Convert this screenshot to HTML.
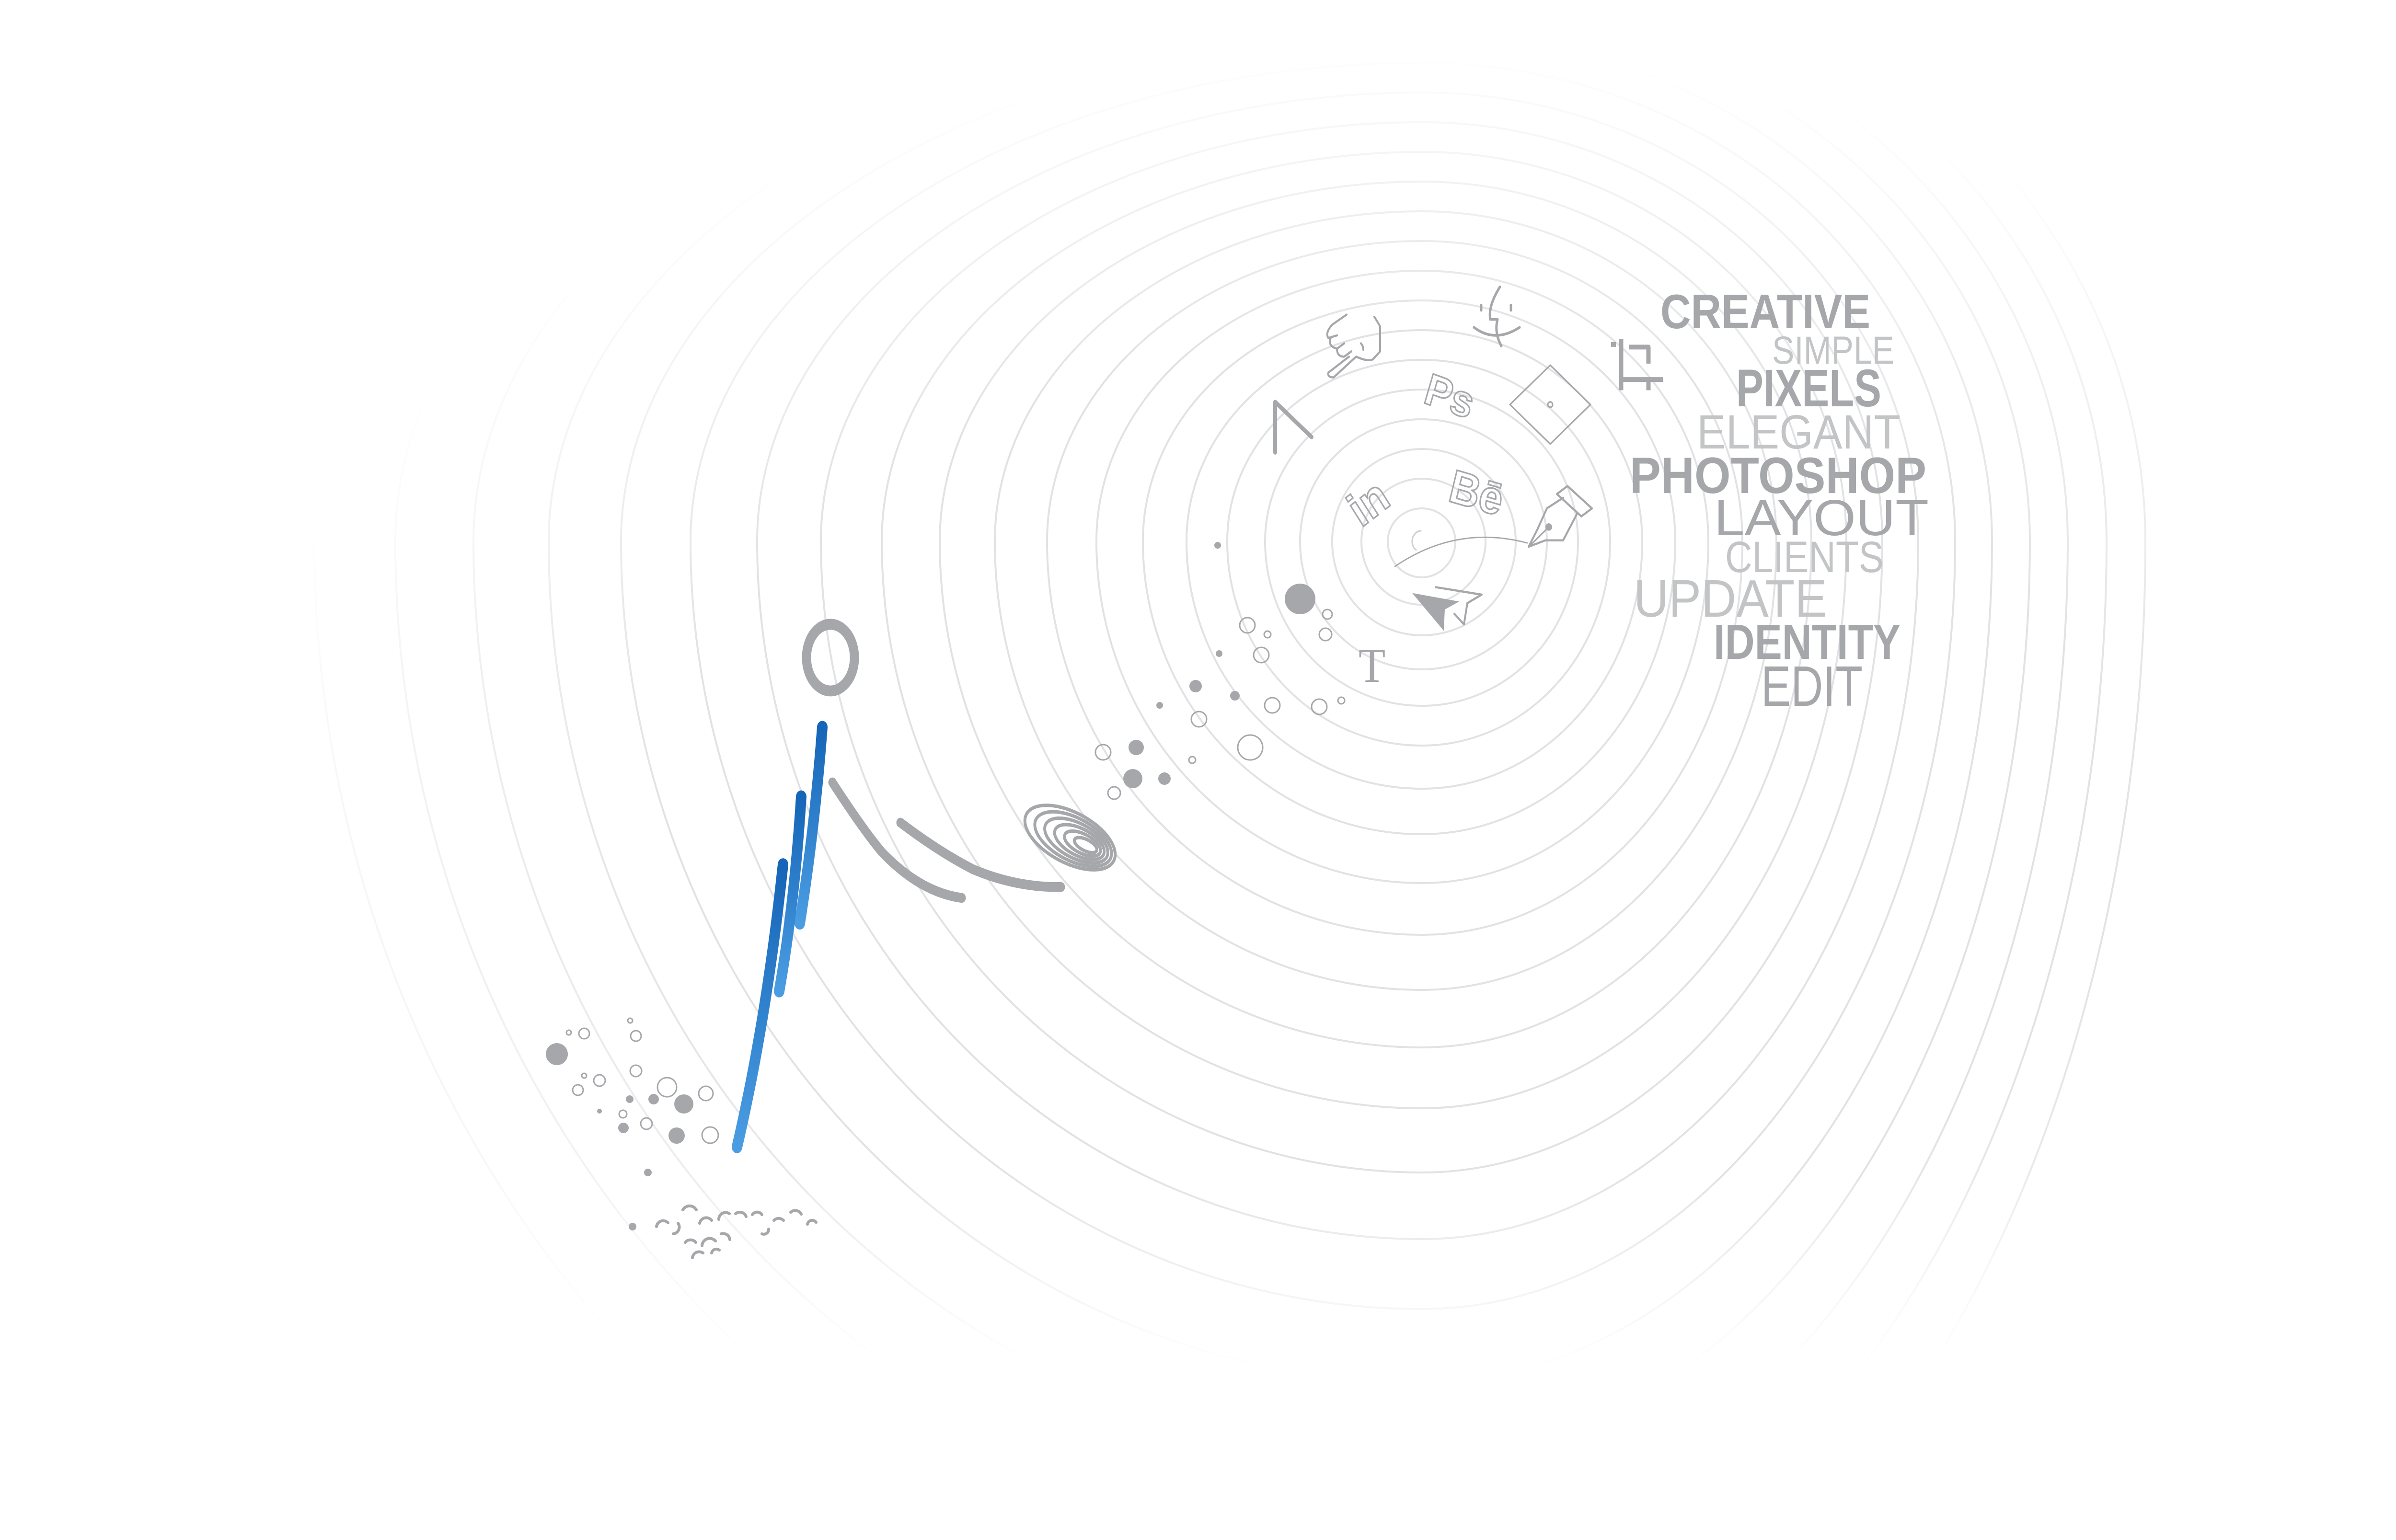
<!DOCTYPE html>
<html><head><meta charset="utf-8"><style>
html,body{margin:0;padding:0;background:#fff;width:5136px;height:3214px;overflow:hidden}
svg{display:block;position:absolute;left:0;top:0}
</style></head><body>
<svg width="5136" height="3214" viewBox="0 0 5136 3214" xmlns="http://www.w3.org/2000/svg">
<defs>
<radialGradient id="gR" cx="2900" cy="1700" r="2500" gradientUnits="userSpaceOnUse" gradientTransform="translate(0 1700) scale(1 0.66) translate(0 -1700)">
<stop offset="0" stop-color="#fff"/><stop offset="0.6" stop-color="#fff"/><stop offset="0.97" stop-color="#000"/></radialGradient>
<linearGradient id="gV" x1="0" y1="0" x2="0" y2="3214" gradientUnits="userSpaceOnUse">
<stop offset="0" stop-color="#fff"/><stop offset="0.76" stop-color="#fff"/><stop offset="0.89" stop-color="#000"/></linearGradient>
<mask id="m" maskUnits="userSpaceOnUse" x="0" y="0" width="5136" height="3214">
<rect width="5136" height="3214" fill="url(#gR)"/>
</mask>
<mask id="m2" maskUnits="userSpaceOnUse" x="0" y="0" width="5136" height="3214">
<rect width="5136" height="3214" fill="url(#gV)"/>
</mask>
<linearGradient id="blue" x1="0" y1="0" x2="0" y2="1"><stop offset="0" stop-color="#1565b8"/><stop offset="1" stop-color="#4b9de2"/></linearGradient>
</defs>
<g mask="url(#m2)">
<g fill="none" stroke="#e2e2e4" stroke-width="4" mask="url(#m)">
<path d="M2896 1130 A71 69 0 0 1 2967 1061 A70 69 0 0 1 3037 1130 A70 75 0 0 1 2967 1205 A71 75 0 0 1 2896 1130"/>
<path d="M2841 1130 A126 131 0 0 1 2967 999 A133 131 0 0 1 3100 1130 A133 132 0 0 1 2967 1262 A126 132 0 0 1 2841 1130"/>
<path d="M2780 1130 A187 193 0 0 1 2967 937 A196 193 0 0 1 3163 1130 A196 196 0 0 1 2967 1326 A187 196 0 0 1 2780 1130"/>
<path d="M2713 1130 A254 255 0 0 1 2967 875 A261 255 0 0 1 3228 1130 A261 267 0 0 1 2967 1397 A254 267 0 0 1 2713 1130"/>
<path d="M2640 1130 A327 317 0 0 1 2967 813 A326 317 0 0 1 3293 1130 A326 343 0 0 1 2967 1473 A327 343 0 0 1 2640 1130"/>
<path d="M2561 1130 A406 379 0 0 1 2967 751 A393 379 0 0 1 3360 1130 A393 426 0 0 1 2967 1556 A406 426 0 0 1 2561 1130"/>
<path d="M2476 1130 A491 441 0 0 1 2967 689 A460 441 0 0 1 3427 1130 A460 516 0 0 1 2967 1646 A491 516 0 0 1 2476 1130"/>
<path d="M2385 1130 A582 503 0 0 1 2967 627 A529 503 0 0 1 3496 1130 A529 611 0 0 1 2967 1741 A582 611 0 0 1 2385 1130"/>
<path d="M2288 1130 A679 565 0 0 1 2967 565 A598 565 0 0 1 3565 1130 A598 713 0 0 1 2967 1843 A679 713 0 0 1 2288 1130"/>
<path d="M2185 1130 A782 627 0 0 1 2967 503 A669 627 0 0 1 3636 1130 A669 821 0 0 1 2967 1951 A782 821 0 0 1 2185 1130"/>
<path d="M2076 1130 A891 689 0 0 1 2967 441 A740 689 0 0 1 3707 1130 A740 936 0 0 1 2967 2066 A891 936 0 0 1 2076 1130"/>
<path d="M1961 1130 A1006 751 0 0 1 2967 379 A813 751 0 0 1 3780 1130 A813 1056 0 0 1 2967 2186 A1006 1056 0 0 1 1961 1130"/>
<path d="M1840 1130 A1127 813 0 0 1 2967 317 A886 813 0 0 1 3853 1130 A886 1183 0 0 1 2967 2313 A1127 1183 0 0 1 1840 1130"/>
<path d="M1713 1130 A1254 875 0 0 1 2967 255 A961 875 0 0 1 3928 1130 A961 1317 0 0 1 2967 2447 A1254 1317 0 0 1 1713 1130"/>
<path d="M1580 1130 A1387 937 0 0 1 2967 193 A1036 937 0 0 1 4003 1130 A1036 1456 0 0 1 2967 2586 A1387 1456 0 0 1 1580 1130"/>
<path d="M1441 1130 A1526 999 0 0 1 2967 131 A1113 999 0 0 1 4080 1130 A1113 1602 0 0 1 2967 2732 A1526 1602 0 0 1 1441 1130"/>
<path d="M1296 1130 A1671 1061 0 0 1 2967 69 A1190 1061 0 0 1 4157 1130 A1190 1755 0 0 1 2967 2885 A1671 1755 0 0 1 1296 1130"/>
<path d="M1145 1130 A1822 1123 0 0 1 2967 7 A1269 1123 0 0 1 4236 1130 A1269 1913 0 0 1 2967 3043 A1822 1913 0 0 1 1145 1130"/>
<path d="M988 1130 A1979 1185 0 0 1 2967 -55 A1348 1185 0 0 1 4315 1130 A1348 2078 0 0 1 2967 3208 A1979 2078 0 0 1 988 1130"/>
<path d="M825 1130 A2142 1247 0 0 1 2967 -117 A1429 1247 0 0 1 4396 1130 A1429 2249 0 0 1 2967 3379 A2142 2249 0 0 1 825 1130"/>
<path d="M656 1130 A2311 1309 0 0 1 2967 -179 A1510 1309 0 0 1 4477 1130 A1510 2427 0 0 1 2967 3557 A2311 2427 0 0 1 656 1130"/>
</g>
</g>

<!-- words -->
<g font-family="Liberation Sans, sans-serif">
<text x="3465" y="685" font-size="101" font-weight="bold" fill="#a6a7aa" textLength="438" lengthAdjust="spacingAndGlyphs">CREATIVE</text>
<text x="3698" y="759" font-size="82" fill="#c3c4c6" textLength="255" lengthAdjust="spacingAndGlyphs">SIMPLE</text>
<text x="3623" y="848" font-size="110" font-weight="bold" fill="#a6a7aa" textLength="303" lengthAdjust="spacingAndGlyphs">PIXELS</text>
<text x="3541" y="936" font-size="100" fill="#c3c4c6" textLength="425" lengthAdjust="spacingAndGlyphs">ELEGANT</text>
<text x="3401" y="1029" font-size="107" font-weight="bold" fill="#a6a7aa" textLength="619" lengthAdjust="spacingAndGlyphs">PHOTOSHOP</text>
<text x="3577" y="1117" font-size="106" fill="#a6a7aa" textLength="448" lengthAdjust="spacingAndGlyphs">LAYOUT</text>
<text x="3600" y="1194" font-size="92" fill="#c3c4c6" textLength="331" lengthAdjust="spacingAndGlyphs">CLIENTS</text>
<text x="3409" y="1287" font-size="110" fill="#c3c4c6" textLength="404" lengthAdjust="spacingAndGlyphs">UPDATE</text>
<text x="3576" y="1375" font-size="103" font-weight="bold" fill="#a6a7aa" textLength="390" lengthAdjust="spacingAndGlyphs">IDENTITY</text>
<text x="3675" y="1473" font-size="119" fill="#a6a7aa" textLength="212" lengthAdjust="spacingAndGlyphs">EDIT</text>
</g>

<!-- icons -->
<g transform="matrix(1 0 0 1.111 0 -61.1)">
<g stroke="#a6a7aa" fill="none" stroke-width="7" stroke-linecap="round" stroke-linejoin="round">
<path d="M3362 702 H3372 M3383 692 V788 M3383 768 H3470 M3400 707 H3440 V738 M3440 768 V788" stroke-width="9" stroke-linecap="butt"/>
<path d="M2661 905 V810 L2737 876" stroke-width="8"/>
<path d="M3130 594 Q3105 630 3110 655 L3125 655 Q3118 680 3133 705 M3076 670 Q3120 700 3171 670 M3091 628 V638 M3153 628 V638" stroke-width="5"/>
<path d="M2810 646 L2780 665 Q2765 680 2772 690 L2790 685 M2777 690 Q2770 705 2790 710 L2805 700 M2790 710 Q2790 725 2805 725 L2820 715 M2815 725 L2772 755 Q2770 764 2783 764 L2830 725 Q2855 735 2865 730 L2880 715 V668 L2868 650 M2840 700 Q2845 705 2845 712" stroke-width="4"/>
<path d="M3235 741 L3319 815 L3235 889 L3151 815 Z" stroke-width="3"/>
<circle cx="3235" cy="815" r="5" stroke-width="3"/>
<path d="M3271 968 L3322 1010 L3300 1025 L3249 983 Z M3262 990 L3228 1010 L3208 1050 L3190 1082 L3225 1070 L3262 1070 L3291 1020" stroke-width="4"/>
<path d="M3232 1045 L3195 1078" stroke-width="3"/>
<path d="M2911 1119 Q3040 1040 3187 1075" stroke-width="2.5"/>
<path d="M2965 1052 A20 20 0 0 0 2955 1088" stroke="#d0d0d2" stroke-width="3"/>
<path d="M2996 1158 L3092 1172 L3062 1188 L3055 1228 L3035 1208" stroke-width="4"/>
</g>
<circle cx="3232" cy="1045" r="7" fill="#a6a7aa"/>
<path d="M2947 1169 L3045 1185 L3015 1200 L3013 1240 Z" fill="#a6a7aa"/>
<g font-family="Liberation Sans, sans-serif" font-weight="bold" fill="none" stroke="#a6a7aa" stroke-width="3">
<text x="2975" y="826" font-size="84" transform="rotate(18 3020 795)">Ps</text>
<text x="2815" y="1025" font-size="90" transform="rotate(-35 2863 996)">in</text>
<text x="3025" y="1010" font-size="88" transform="rotate(15 3078 981)">Bē</text>
</g>
<text x="2835" y="1336" font-family="Liberation Serif, serif" font-size="92" fill="#a6a7aa">T</text>
</g>

<!-- bubbles -->
<g fill="#a6a7aa">
<circle cx="2713" cy="1250" r="32"/>
<circle cx="2541" cy="1138" r="7"/><circle cx="2544" cy="1364" r="7"/><circle cx="2495" cy="1432" r="13"/>
<circle cx="2577" cy="1452" r="10"/><circle cx="2420" cy="1472" r="7"/><circle cx="2371" cy="1560" r="16"/>
<circle cx="2364" cy="1625" r="20"/><circle cx="2430" cy="1625" r="13"/>
<circle cx="1162" cy="2200" r="23"/><circle cx="1427" cy="2304" r="20"/><circle cx="1364" cy="2294" r="11"/>
<circle cx="1314" cy="2294" r="8"/><circle cx="1251" cy="2319" r="5"/><circle cx="1301" cy="2354" r="11"/>
<circle cx="1412" cy="2370" r="17"/><circle cx="1352" cy="2447" r="8"/><circle cx="1320" cy="2560" r="8"/>
</g>
<g fill="none" stroke="#a6a7aa" stroke-width="3">
<circle cx="2770" cy="1282" r="10"/><circle cx="2603" cy="1305" r="16"/><circle cx="2645" cy="1324" r="7"/>
<circle cx="2766" cy="1324" r="13"/><circle cx="2632" cy="1367" r="16"/><circle cx="2655" cy="1472" r="16"/>
<circle cx="2753" cy="1475" r="16"/><circle cx="2799" cy="1462" r="7"/><circle cx="2502" cy="1501" r="16"/>
<circle cx="2302" cy="1570" r="16"/><circle cx="2609" cy="1560" r="26"/><circle cx="2488" cy="1586" r="7"/>
<circle cx="2325" cy="1655" r="13"/>
<circle cx="1187" cy="2155" r="5"/><circle cx="1219" cy="2157" r="11"/><circle cx="1315" cy="2130" r="5"/>
<circle cx="1327" cy="2162" r="11"/><circle cx="1327" cy="2235" r="12"/><circle cx="1251" cy="2255" r="12"/>
<circle cx="1219" cy="2245" r="5"/><circle cx="1206" cy="2275" r="11"/><circle cx="1392" cy="2269" r="20"/>
<circle cx="1473" cy="2282" r="15"/><circle cx="1300" cy="2325" r="8"/><circle cx="1349" cy="2345" r="12"/>
<circle cx="1482" cy="2369" r="17"/>
</g>
<g fill="none" stroke="#a6a7aa" stroke-width="6" stroke-linecap="round" transform="translate(-10,-25)">
<path d="M1380 2585 a14 14 0 0 1 24 -8 M1415 2600 a14 14 0 0 0 10 -22 M1435 2550 a16 16 0 0 1 28 0 M1470 2578 a14 14 0 0 1 25 -6 M1510 2570 a14 14 0 0 1 22 -12 M1545 2558 a14 14 0 0 1 22 6 M1580 2560 a12 12 0 0 1 20 0 M1440 2618 a14 14 0 0 1 22 0 M1475 2625 a16 16 0 0 1 28 -10 M1515 2600 a14 14 0 0 1 18 12 M1455 2650 a14 14 0 0 1 22 -10 M1495 2640 a10 10 0 0 1 16 -6 M1625 2572 a14 14 0 0 1 20 0 M1600 2600 a10 10 0 0 0 14 -10 M1660 2555 a14 14 0 0 1 22 4 M1695 2580 a10 10 0 0 1 18 -4"/>
</g>

<!-- figure -->
<g transform="matrix(1 0 0 1.2 0 -250)">
<ellipse cx="1733" cy="1352" rx="50" ry="58" fill="none" stroke="#a6a7aa" stroke-width="19"/>
<g fill="none" stroke="url(#blue)" stroke-width="22" stroke-linecap="round">
<path d="M1716 1473 Q1700 1650 1669 1814"/>
<path d="M1672 1594 Q1658 1780 1626 1932"/>
<path d="M1634 1712 Q1600 1980 1538 2203"/>
</g>
<g fill="none" stroke="#a6a7aa" stroke-width="17" stroke-linecap="round">
<path d="M1737 1569 Q1800 1650 1840 1690 Q1920 1760 2007 1770"/>
<path d="M1879 1639 Q1960 1690 2030 1720 Q2120 1752 2214 1751"/>
</g>
<g fill="none" stroke="#a6a7aa" stroke-width="6" transform="rotate(22 2233 1665)">
<ellipse cx="2233" cy="1665" rx="100" ry="45"/>
<ellipse cx="2240" cy="1665" rx="85" ry="38"/>
<ellipse cx="2247" cy="1665" rx="70" ry="31"/>
<ellipse cx="2254" cy="1665" rx="55" ry="24"/>
<ellipse cx="2261" cy="1665" rx="40" ry="17"/>
<ellipse cx="2268" cy="1665" rx="25" ry="10"/>
</g>
</g>
</svg>
</body></html>
